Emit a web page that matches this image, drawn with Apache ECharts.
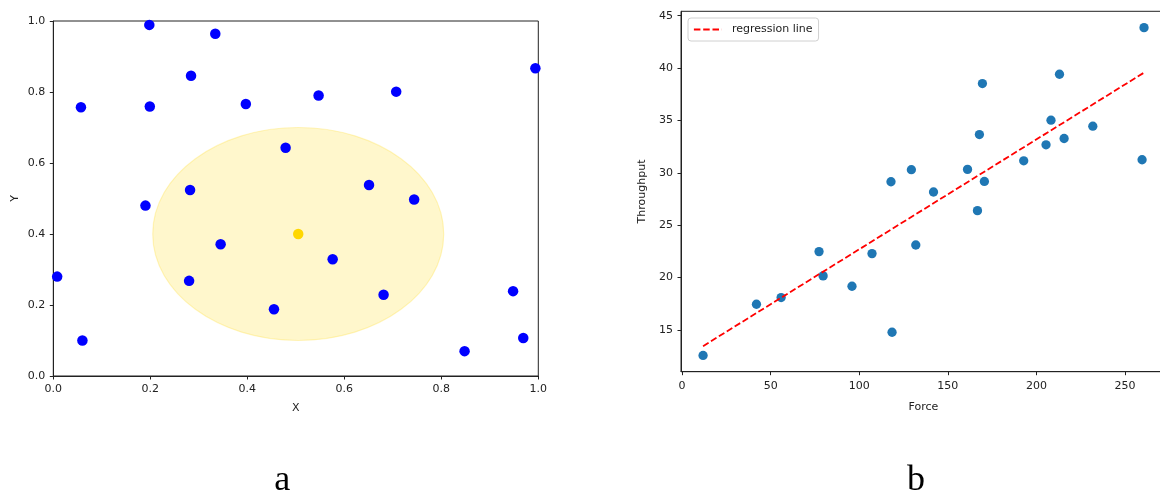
<!DOCTYPE html>
<html>
<head>
<meta charset="utf-8">
<script src="https://cdn.jsdelivr.net/npm/echarts@6/dist/echarts.min.js"></script>
<style>html,body{margin:0;padding:0;background:#fff}#c{width:1160px;height:496px}</style>
</head>
<body>
<div id="c"></div>
<script>
// ---- panel a data ----
const pointsX = [0.198,0.334,0.284,0.057,0.199,0.397,0.547,0.707,0.994,0.479,0.282,0.190,0.651,0.744,0.345,0.008,0.280,0.576,0.681,0.455,0.060,0.848,0.948,0.969];
const pointsY = [0.989,0.964,0.846,0.757,0.759,0.766,0.790,0.801,0.867,0.643,0.524,0.480,0.538,0.497,0.371,0.280,0.268,0.329,0.229,0.188,0.100,0.070,0.239,0.107];
const centerPoint = [0.505, 0.400];
const circleRadius = 0.3;

// ---- panel b data ----
const forceX = [11.85,41.98,55.9,77.3,79.6,95.9,107.2,117.9,118.5,129.4,131.9,141.9,161.1,166.7,167.8,169.5,170.6,192.8,205.4,208.2,215.6,213.0,231.8,259.6,260.7];
const throughputY = [12.55,17.44,18.08,22.47,20.15,19.16,22.28,29.14,14.77,30.29,23.10,28.16,30.32,26.38,33.65,38.52,29.17,31.14,32.67,35.02,33.27,39.41,34.45,31.24,43.86];
const regressionX = [11.85, 260.7];
const regressionY = [13.44, 39.56];
const forceTicks = [0, 50, 100, 150, 200, 250];
const throughputTicks = [15, 20, 25, 30, 35, 40, 45];

const FONT = 'DejaVu Sans';
const INK = '#222';
const zip = (a, b) => a.map((v, i) => [v, b[i]]);

function axisBase(extra) {
  return Object.assign({
    type: 'value',
    splitLine: {show: false},
    axisLine: {show: true, onZero: false, lineStyle: {color: INK, width: 1}},
    axisTick: {show: true, inside: false, length: 3.5, lineStyle: {color: INK, width: 1}},
    axisLabel: {color: INK, fontSize: 11, fontFamily: FONT, margin: 8},
    nameLocation: 'middle',
    nameTextStyle: {color: INK, fontSize: 11, fontFamily: FONT}
  }, extra);
}

const chart = echarts.init(document.getElementById('c'), null, {renderer: 'canvas'});
chart.setOption({
  backgroundColor: '#fff',
  animation: false,
  grid: [
    {left: 53.3, width: 485, top: 21, height: 355, outerBoundsMode: 'none', containLabel: false, show: true, borderColor: INK, borderWidth: 1, backgroundColor: 'transparent'},
    {left: 681, width: 485, top: 11.3, height: 360.4, outerBoundsMode: 'none', containLabel: false, show: true, borderColor: INK, borderWidth: 1, backgroundColor: 'transparent'}
  ],
  xAxis: [
    axisBase({gridIndex: 0, min: 0, max: 1, interval: 0.2, name: 'X', nameGap: 27,
      axisLabel: {color: INK, fontSize: 11, fontFamily: FONT, margin: 8, formatter: v => v.toFixed(1)}}),
    axisBase({gridIndex: 1, min: -0.6, max: 273.1, name: 'Force', nameGap: 30,
      axisTick: {show: true, inside: false, length: 3.5, lineStyle: {color: INK, width: 1}, customValues: forceTicks},
      axisLabel: {color: INK, fontSize: 11, fontFamily: FONT, margin: 9, customValues: forceTicks}})
  ],
  yAxis: [
    axisBase({gridIndex: 0, min: 0, max: 1, interval: 0.2, name: 'Y', nameGap: 33,
      axisLabel: {color: INK, fontSize: 11, fontFamily: FONT, margin: 8, formatter: v => v.toFixed(1)}}),
    axisBase({gridIndex: 1, min: 11.0, max: 45.42, name: 'Throughput', nameGap: 33,
      axisTick: {show: true, inside: false, length: 3.5, lineStyle: {color: INK, width: 1}, customValues: throughputTicks},
      axisLabel: {color: INK, fontSize: 11, fontFamily: FONT, margin: 8, customValues: throughputTicks}})
  ],
  legend: {
    data: ['regression line'],
    left: 688, top: 18,
    orient: 'vertical',
    padding: [6, 6, 6, 5],
    itemWidth: 28, itemHeight: 12,
    itemStyle: {opacity: 0, color: 'transparent', borderWidth: 0},
    lineStyle: {width: 1.8},
    backgroundColor: '#fff', borderColor: '#d0d0d0', borderWidth: 1, borderRadius: 3,
    textStyle: {color: INK, fontSize: 11, fontFamily: FONT, padding: [0, 0, 0, 5]}
  },
  graphic: [
    {type: 'text', x: 282.3, y: 481, style: {text: 'a', font: '36px "Liberation Serif"', fill: '#000', textAlign: 'center', textVerticalAlign: 'middle'}},
    {type: 'text', x: 916, y: 481, style: {text: 'b', font: '36px "Liberation Serif"', fill: '#000', textAlign: 'center', textVerticalAlign: 'middle'}}
  ],
  series: [
    {
      type: 'custom', xAxisIndex: 0, yAxisIndex: 0, silent: true, z: 1,
      data: [[centerPoint[0], centerPoint[1], circleRadius]],
      encode: {x: 0, y: 1},
      renderItem: function (params, api) {
        const c = api.coord([api.value(0), api.value(1)]);
        const s = api.size([api.value(2), api.value(2)]);
        return {
          type: 'ellipse',
          shape: {cx: c[0], cy: c[1], rx: s[0], ry: s[1]},
          style: {fill: 'rgba(255,215,0,0.2)', stroke: 'rgba(255,215,0,0.22)', lineWidth: 1.2}
        };
      }
    },
    {
      type: 'scatter', xAxisIndex: 0, yAxisIndex: 0, z: 3,
      symbolSize: 10.5,
      itemStyle: {color: '#0000ff', opacity: 1},
      data: zip(pointsX, pointsY)
    },
    {
      type: 'scatter', xAxisIndex: 0, yAxisIndex: 0, z: 4,
      symbolSize: 10.5,
      itemStyle: {color: '#ffd700', opacity: 1},
      data: [centerPoint]
    },
    {
      name: 'regression line',
      type: 'line', xAxisIndex: 1, yAxisIndex: 1, z: 3,
      showSymbol: false, symbol: 'none',
      lineStyle: {color: '#ff0000', width: 1.8, type: [6.5, 2.8]},
      itemStyle: {color: '#ff0000'},
      data: zip(regressionX, regressionY)
    },
    {
      type: 'scatter', xAxisIndex: 1, yAxisIndex: 1, z: 2,
      symbolSize: 9.3,
      itemStyle: {color: '#1f77b4', opacity: 1},
      data: zip(forceX, throughputY)
    }
  ]
});
</script>
</body>
</html>
